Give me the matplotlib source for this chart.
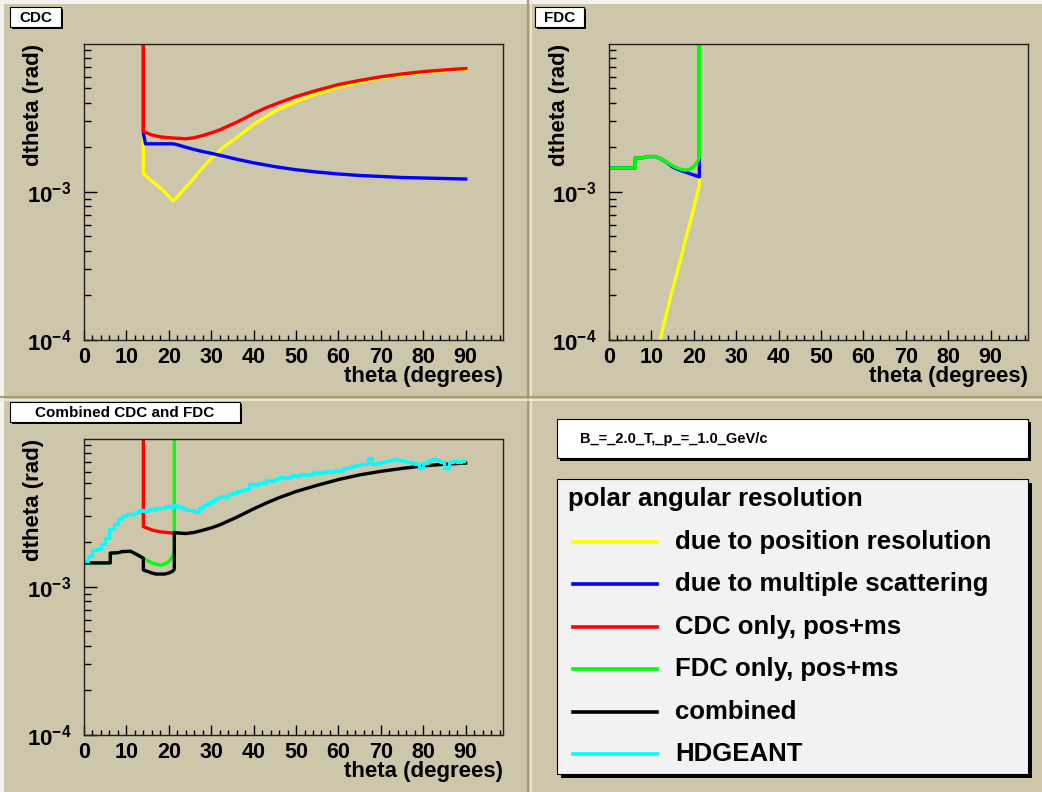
import numpy as np
import matplotlib
matplotlib.use("Agg")
import matplotlib.pyplot as plt
from matplotlib.patches import Rectangle
from matplotlib.lines import Line2D
from matplotlib.ticker import MultipleLocator, LogLocator, NullFormatter, FixedLocator, FixedFormatter

plt.rcParams['font.family'] = ['Liberation Sans', 'DejaVu Sans']
plt.rcParams['font.weight'] = 'bold'
plt.rcParams['mathtext.fontset'] = 'custom'
plt.rcParams['mathtext.rm'] = 'Liberation Sans:bold'
plt.rcParams['mathtext.bf'] = 'Liberation Sans:bold'
plt.rcParams['mathtext.default'] = 'rm'

# ---- data (dtheta in units of 1e-3 rad, theta in degrees) ----
YTOP = 10.0  # top of y range (1e-2 rad), used for vertical edges

# CDC panel
cdc_pos_theta = [14, 14, 15, 17, 19, 21, 22, 23, 25, 27, 30, 33, 36, 40, 45, 50, 55, 60, 65, 70, 75, 80, 85, 90]
cdc_pos_val = [YTOP, 1.33, 1.25, 1.12, 1.00, 0.87, 0.92, 1.00, 1.15, 1.35, 1.68, 2.02, 2.32, 2.85, 3.50, 4.07, 4.60, 5.10, 5.50, 5.86, 6.15, 6.40, 6.57, 6.68]

cdc_ms_theta = [14, 14, 14.5, 21, 22, 24, 26, 28, 30, 33, 36, 40, 45, 50, 55, 60, 65, 70, 75, 80, 85, 90]
cdc_ms_val = [YTOP, 2.48, 2.11, 2.11, 2.08, 2.00, 1.93, 1.87, 1.82, 1.74, 1.66, 1.57, 1.48, 1.41, 1.36, 1.32, 1.29, 1.27, 1.25, 1.24, 1.23, 1.22]

cdc_tot_theta = [14, 14, 16, 18, 20, 22, 24, 26, 28, 30, 32, 34, 36, 38, 40, 43, 46, 50, 55, 60, 65, 70, 75, 80, 85, 90]
cdc_tot_val = [YTOP, 2.55, 2.42, 2.35, 2.32, 2.30, 2.28, 2.32, 2.40, 2.50, 2.62, 2.78, 2.95, 3.15, 3.38, 3.70, 4.00, 4.40, 4.85, 5.30, 5.65, 5.98, 6.25, 6.48, 6.65, 6.80]

# FDC panel
fdc_pos_theta = [10, 11, 12, 13, 14, 15, 16, 17, 18, 19, 20, 21, 21.3, 21.3]
fdc_pos_val = [0.058, 0.076, 0.098, 0.13, 0.17, 0.22, 0.28, 0.36, 0.47, 0.60, 0.78, 1.02, 1.10, YTOP]

fdc_ms_theta = [0, 6.2, 6.2, 8, 9, 11, 12, 13, 14, 15, 16, 17, 18, 19, 20, 21, 21.3, 21.3]
fdc_ms_val = [1.45, 1.45, 1.69, 1.70, 1.73, 1.73, 1.68, 1.62, 1.55, 1.47, 1.43, 1.39, 1.36, 1.33, 1.30, 1.27, 1.26, YTOP]

fdc_tot_theta = [0, 6.2, 6.2, 8, 9, 11, 12, 13, 14, 15, 16, 17, 18, 19, 20, 21, 21.3, 21.3]
fdc_tot_val = [1.45, 1.45, 1.69, 1.70, 1.73, 1.73, 1.68, 1.62, 1.56, 1.50, 1.45, 1.42, 1.40, 1.42, 1.48, 1.62, 1.72, YTOP]

# Combined panel
comb_cdc_theta = [14, 14, 16, 18, 20, 21.3]
comb_cdc_val = [YTOP, 2.55, 2.42, 2.35, 2.32, 2.30]

comb_theta = [0, 6.2, 6.2, 8, 9, 11, 12, 13, 14, 14, 15, 16, 17, 18, 19, 20, 21, 21.3, 21.3,
              22, 24, 26, 28, 30, 32, 34, 36, 38, 40, 43, 46, 50, 55, 60, 65, 70, 75, 80, 85, 90]
comb_val = [1.45, 1.45, 1.69, 1.70, 1.73, 1.74, 1.68, 1.62, 1.56, 1.30, 1.27, 1.24, 1.22, 1.22, 1.22, 1.24, 1.28, 1.32, 2.33,
            2.31, 2.29, 2.33, 2.41, 2.50, 2.62, 2.78, 2.95, 3.15, 3.36, 3.68, 4.00, 4.40, 4.85, 5.30, 5.70, 6.02, 6.30, 6.55, 6.72, 6.85]

geant_theta = np.arange(0.5, 90, 1.0)
geant_val = [1.50, 1.62, 1.78, 1.80, 1.95, 2.15, 2.45, 2.65, 2.85, 3.00,
             3.10, 3.12, 3.22, 3.28, 3.25, 3.35, 3.30, 3.42, 3.40, 3.52,
             3.48, 3.55, 3.45, 3.38, 3.30, 3.28, 3.22, 3.40, 3.55, 3.70,
             3.80, 3.95, 4.10, 4.05, 4.25, 4.30, 4.45, 4.50, 4.60, 4.95,
             4.85, 5.05, 5.00, 5.25, 5.15, 5.35, 5.50, 5.40, 5.55, 5.70,
             5.60, 5.75, 5.70, 5.75, 5.95, 5.90, 6.00, 6.05, 5.95, 6.15,
             6.10, 6.30, 6.30, 6.55, 6.65, 6.75, 6.70, 7.40, 6.80, 6.85,
             6.95, 7.05, 7.15, 7.25, 7.20, 7.10, 7.00, 6.90, 6.70, 6.35,
             6.90, 7.15, 7.30, 7.20, 7.00, 6.30, 7.00, 7.10, 6.95, 7.05]

legend_labels = ["due to position resolution", "due to multiple scattering",
                 "CDC only, pos+ms", "FDC only, pos+ms", "combined", "HDGEANT"]
legend_colors = ["#FFFF00", "#0000FF", "#FF0000", "#00FF00", "#000000", "#00FFFF"]

# ---- drawing ----
W, H = 1042, 792
BEIGE = "#CDC6AA"
fig = plt.figure(figsize=(W / 100, H / 100), dpi=100, facecolor=BEIGE)


def rect(x0, y0, x1, y1, **kw):
    r = Rectangle((x0 / W, 1 - y1 / H), (x1 - x0) / W, (y1 - y0) / H,
                  transform=fig.transFigure, **kw)
    fig.add_artist(r)


def text(x, y, s, **kw):
    fig.text(x / W, 1 - y / H, s, **kw)


def hline(x0, x1, y, color, lw):
    fig.add_artist(Line2D([x0 / W, x1 / W], [1 - y / H, 1 - y / H], transform=fig.transFigure,
                          color=color, lw=lw))


def vline(x, y0, y1, color, lw):
    fig.add_artist(Line2D([x / W, x / W], [1 - y0 / H, 1 - y1 / H], transform=fig.transFigure,
                          color=color, lw=lw))


# pad bevels
rect(0, 0, W, 4, facecolor="#F3F2EC", edgecolor="none")
rect(0, 0, 4, H, facecolor="#F3F2EC", edgecolor="none")
vline(527.5, 0, H, "#A59C72", 1.6)
vline(530.5, 0, H, "#EEEBE0", 1.2)
hline(0, W, 396.5, "#A59C72", 1.6)
hline(0, W, 399.5, "#EEEBE0", 1.2)


def make_axes(x0, ytop):
    ax = fig.add_axes([x0 / W, 1 - (ytop + 296.3) / H, 419 / W, 296.3 / H])
    ax.set_facecolor("none")
    ax.set_yscale("log")
    ax.set_xlim(0, 98.8)
    ax.set_ylim(0.1, 10)
    ax.set_xticks(np.arange(0, 91, 10))
    ax.set_xticklabels([str(v) for v in range(0, 91, 10)])
    ax.xaxis.set_minor_locator(MultipleLocator(2))
    ax.yaxis.set_major_locator(FixedLocator([0.1, 1.0]))
    ax.yaxis.set_major_formatter(FixedFormatter([r"$10^{-4}$", r"$10^{-3}$"]))
    ax.yaxis.set_minor_locator(LogLocator(base=10, subs=np.arange(2, 10)))
    ax.yaxis.set_minor_formatter(NullFormatter())
    ax.tick_params(axis="x", which="major", direction="in", length=7.2, width=1, labelsize=15.5, pad=5)
    ax.tick_params(axis="x", which="minor", direction="in", length=3.6, width=1)
    ax.tick_params(axis="y", which="major", direction="in", length=9, width=1, labelsize=16, pad=9)
    ax.tick_params(axis="y", which="minor", direction="in", length=4.8, width=1)
    for lab in ax.get_xticklabels() + ax.get_yticklabels():
        lab.set_fontweight("bold")
    for s in ax.spines.values():
        s.set_linewidth(1.0)
        s.set_color("#222222")
    text(x0 - 50, ytop, "dtheta (rad)", rotation=90, ha="center", va="top", fontsize=16, fontweight="bold")
    text(x0 + 419, ytop + 333, "theta (degrees)", ha="right", va="center", fontsize=16, fontweight="bold")
    return ax


LW = 2.4
ax1 = make_axes(84, 43.7)
ax1.plot(cdc_pos_theta, cdc_pos_val, color="#FFFF00", lw=LW)
ax1.plot(cdc_ms_theta, cdc_ms_val, color="#0000FF", lw=LW)
ax1.plot(cdc_tot_theta, cdc_tot_val, color="#FF0000", lw=LW)

ax2 = make_axes(609, 43.7)
ax2.plot(fdc_pos_theta, fdc_pos_val, color="#FFFF00", lw=LW)
ax2.plot(fdc_ms_theta, fdc_ms_val, color="#0000FF", lw=LW)
ax2.plot(fdc_tot_theta, fdc_tot_val, color="#00FF00", lw=LW)

ax3 = make_axes(84, 438.7)
ax3.plot(fdc_tot_theta, fdc_tot_val, color="#00FF00", lw=LW)
ax3.plot(comb_cdc_theta, comb_cdc_val, color="#FF0000", lw=LW)
ax3.plot(comb_theta, comb_val, color="#000000", lw=LW)
ax3.plot(geant_theta, geant_val, color="#00FFFF", lw=LW, drawstyle="steps-mid")


def titlebox(x0, y0, x1, y1, s, fs):
    rect(x0 + 2, y0 + 2, x1 + 2, y1 + 2, facecolor="#000000", edgecolor="none")
    rect(x0, y0, x1, y1, facecolor="white", edgecolor="#000000", lw=0.8)
    text((x0 + x1) / 2, (y0 + y1) / 2 + 0.5, s, ha="center", va="center", fontsize=fs, fontweight="bold")


titlebox(10, 7, 61, 27, "CDC", 11)
titlebox(535, 7, 584, 27, "FDC", 11)
titlebox(10, 402, 240, 422, "Combined CDC and FDC", 11)

# info box
rect(560, 422, 1031, 461, facecolor="#000000", edgecolor="none")
rect(557, 419, 1028, 458, facecolor="white", edgecolor="#000000", lw=0.8)
text(580, 439, "B_=_2.0_T,_p_=_1.0_GeV/c", ha="left", va="center", fontsize=10.5, fontweight="bold")

# legend box
rect(561, 483, 1032, 778, facecolor="#000000", edgecolor="none")
rect(557, 479, 1028, 774, facecolor="#F2F2F2", edgecolor="#000000", lw=0.8)
text(568, 499, "polar angular resolution", ha="left", va="center", fontsize=18.5, fontweight="bold")
row_y = [541.7, 584, 626.7, 669, 711.7, 754]
for yy, lab, col in zip(row_y, legend_labels, legend_colors):
    hline(573, 657, yy, col, 2.6)
    text(675, yy, lab, ha="left", va="center", fontsize=18.5, fontweight="bold")

fig.savefig("out.png", dpi=100, facecolor=BEIGE)
